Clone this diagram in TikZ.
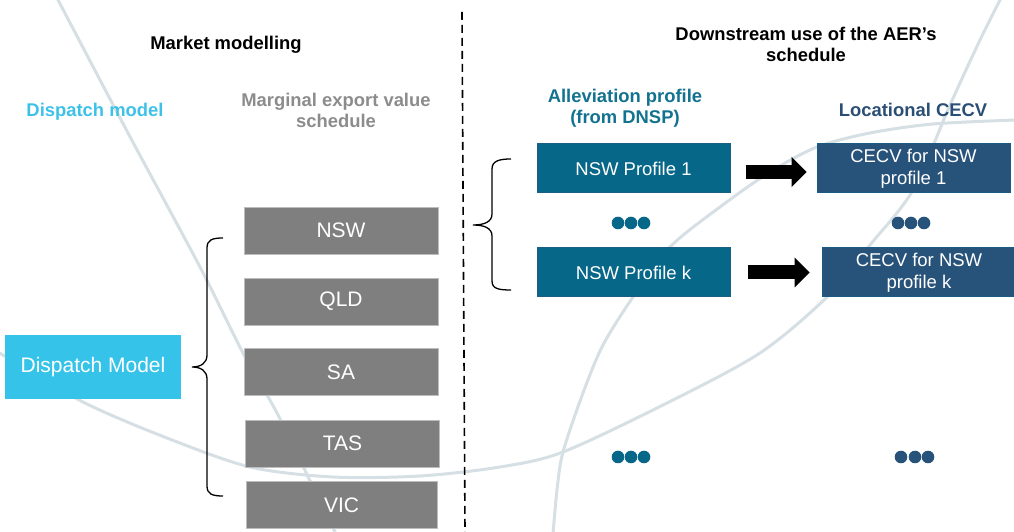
\documentclass[tikz,border=0pt]{standalone}
\usepackage{fontspec}
\setmainfont{Liberation Sans}
\usetikzlibrary{arrows.meta}

\definecolor{arcgrey}{HTML}{D5DFE4}
\definecolor{dispcyan}{HTML}{35C3E9}
\definecolor{disptext}{HTML}{3EC1E8}
\definecolor{regiongrey}{HTML}{7F7F7F}
\definecolor{regionedge}{HTML}{BDBDBD}
\definecolor{margtext}{HTML}{8C8C8C}
\definecolor{profteal}{HTML}{076789}
\definecolor{profedge}{HTML}{1B5E84}
\definecolor{proftext}{HTML}{12728F}
\definecolor{cecvblue}{HTML}{27527A}
\definecolor{cecvedge}{HTML}{1C5A86}
\definecolor{cecvtext}{HTML}{2A4E74}

\tikzset{
  heading/.style={font=\bfseries\fontsize{18.4}{21.5}\selectfont,align=center,inner sep=0pt},
  region/.style={draw=regionedge,fill=regiongrey,text=white,minimum width=194pt,
    minimum height=47pt,inner sep=0pt,font=\fontsize{21}{25}\selectfont},
  profbox/.style={draw=profedge,line width=1pt,fill=profteal,text=white,minimum width=193pt,
    minimum height=49pt,inner sep=0pt,align=center,font=\fontsize{18.5}{22}\selectfont},
  cecvbox/.style={profbox,draw=cecvedge,fill=cecvblue},
  blockarrow/.style={line width=14pt,-{Triangle[length=15pt,width=30pt,line width=0pt]}},
  arcline/.style={draw=arcgrey,line width=3pt}
}

\begin{document}
\begin{tikzpicture}[x=1pt,y=1pt]
\useasboundingbox (0,0) rectangle (1014,532);
% background arcs:
\path[arcline] plot[smooth] coordinates {(57,534) (128,399) (200,265) (243,179) (277,119) (313,45) (336,-2)};
\path[arcline] plot[smooth] coordinates {(-2,180) (83,130) (167,94) (250,65) (333,55) (420,56) (500,65) (563,80)
  (667,129) (760,179) (827,235) (870,287) (913,342) (950,427) (980,492) (1001,534)};
\path[arcline] plot[smooth] coordinates {(553,-2) (557,42) (563,80) (583,139) (603,187) (633,235) (670,285)
  (720,325) (770,360) (817,385) (870,399) (933,408) (1016,412)};
% divider:
\path[draw=black,line width=1.6pt,dash pattern=on 8pt off 5pt] (462,520) -- (465,0);
% headings:
\node[heading] (mkt) at (226,487) {Market modelling};
\node[heading] (down) at (806,487.5) {Downstream use of the AER’s\\schedule};
\node[heading,text=disptext] (dispttl) at (95,420) {Dispatch model};
\node[heading,text=margtext] (margttl) at (336,421.5) {Marginal export value\\schedule};
\node[heading,text=proftext] (allevttl) at (625,424) {Alleviation profile\\(from DNSP)};
\node[heading,text=cecvtext] (locttl) at (913,422) {Locational CECV};
% market modelling side:
\node[region,minimum width=176pt,minimum height=64pt,draw=none,fill=dispcyan] (dispatch) at (93,165) {Dispatch Model};
\node[region] (nsw) at (341,301.5) {NSW};
\node[region] (qld) at (341,230.5) {QLD};
\node[region] (sa) at (341,160) {SA};
\node[region] (tas) at (342.5,88.5) {TAS};
\node[region,minimum width=191pt] (vic) at (341.5,27) {VIC};
\path[draw=black,line width=1.3pt] (223,294) .. controls (212,294) and (207,292) .. (207,284) -- (207,177)
  .. controls (207,169) and (201,165) .. (192,165) .. controls (201,165) and (207,161) .. (207,153)
  -- (207,46) .. controls (207,38) and (212,36) .. (223,36);
% downstream side:
\node[profbox] (prof1) at (633.5,363.5) {NSW Profile 1};
\node[profbox] (profk) at (633.5,259.5) {NSW Profile k};
\node[cecvbox] (cecv1) at (913.5,363.5) {CECV for NSW\\profile 1};
\node[cecvbox,minimum width=194pt] (cecvk) at (919,259.5) {CECV for NSW\\profile k};
\path[draw=black,line width=1.3pt] (511,373) .. controls (499,373) and (492,371) .. (492,363) -- (492,318)
  .. controls (492,310) and (484,307) .. (473,307) .. controls (484,307) and (492,304) .. (492,296)
  -- (492,251) .. controls (492,243) and (499,242) .. (511,242);
\draw[blockarrow] ([xshift=15pt,yshift=-3.5pt]prof1.east) -- ([xshift=-10pt,yshift=-3.5pt]cecv1.west);
\draw[blockarrow] ([xshift=17pt]profk.east) -- ([xshift=-12pt]cecvk.west);
% more profiles:
\foreach \x in {618,631,644} {
  \path[fill=profteal] (\x,309) circle (6.3);
  \path[fill=profteal] (\x,75) circle (6.3);
}
\foreach \x in {898,911,924} \path[fill=cecvblue] (\x,309) circle (6.3);
\foreach \x in {901,915,928} \path[fill=cecvblue] (\x,75) circle (6.3);
\end{tikzpicture}
\end{document}
